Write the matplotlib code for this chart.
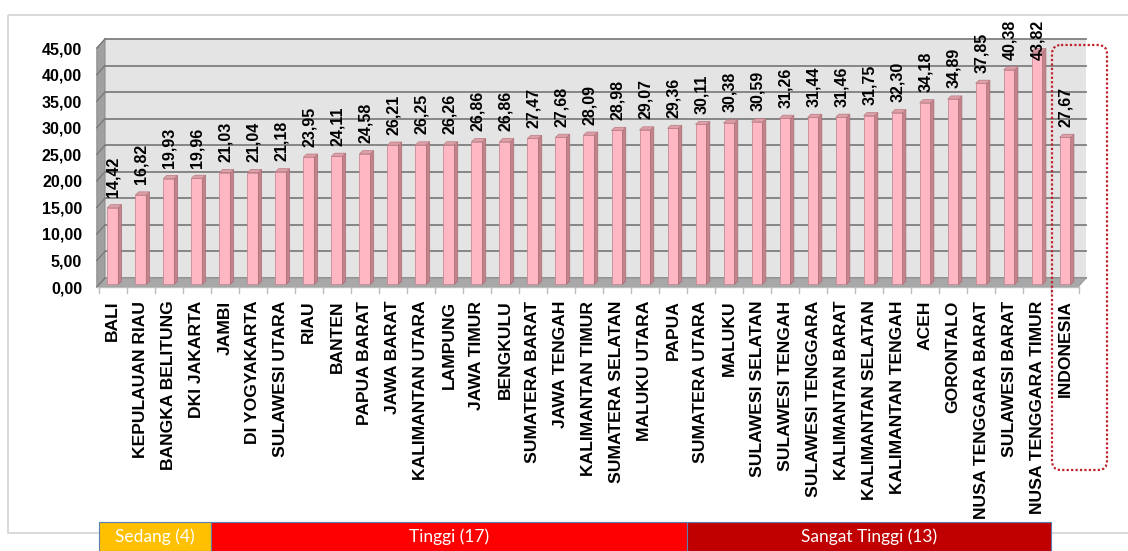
import matplotlib
matplotlib.use("Agg")
import matplotlib.pyplot as plt
from matplotlib.patches import Polygon, Rectangle, FancyBboxPatch
from matplotlib.font_manager import FontProperties
import matplotlib.transforms as mtransforms

# ---------------- data ----------------
provinces = ["BALI", "KEPULAUAN RIAU", "BANGKA BELITUNG", "DKI JAKARTA", "JAMBI",
             "DI YOGYAKARTA", "SULAWESI UTARA", "RIAU", "BANTEN", "PAPUA BARAT",
             "JAWA BARAT", "KALIMANTAN UTARA", "LAMPUNG", "JAWA TIMUR", "BENGKULU",
             "SUMATERA BARAT", "JAWA TENGAH", "KALIMANTAN TIMUR", "SUMATERA SELATAN",
             "MALUKU UTARA", "PAPUA", "SUMATERA UTARA", "MALUKU", "SULAWESI SELATAN",
             "SULAWESI TENGAH", "SULAWESI TENGGARA", "KALIMANTAN BARAT",
             "KALIMANTAN SELATAN", "KALIMANTAN TENGAH", "ACEH", "GORONTALO",
             "NUSA TENGGARA BARAT", "SULAWESI BARAT", "NUSA TENGGARA TIMUR", "INDONESIA"]
values = [14.42, 16.82, 19.93, 19.96, 21.03, 21.04, 21.18, 23.95, 24.11, 24.58,
          26.21, 26.25, 26.26, 26.86, 26.86, 27.47, 27.68, 28.09, 28.98, 29.07,
          29.36, 30.11, 30.38, 30.59, 31.26, 31.44, 31.46, 31.75, 32.30, 34.18,
          34.89, 37.85, 40.38, 43.82, 27.67]
yticks = [0, 5, 10, 15, 20, 25, 30, 35, 40, 45]
band_labels = ["Sedang (4)", "Tinggi (17)", "Sangat Tinggi (13)"]
band_counts = [4, 17, 13]
band_colors = ["#FFC000", "#FF0000", "#C00000"]

W, H = 1128, 551
fig = plt.figure(figsize=(W / 100, H / 100), dpi=100)
fig.patch.set_facecolor("white")

fp_val = FontProperties(family="Liberation Sans", weight="bold", size=11.5)
fp_ytick = FontProperties(family="Liberation Sans", weight="bold", size=11.5)
fp_xtick = FontProperties(family="Liberation Sans", weight="bold", size=12.6)
fp_band = FontProperties(family="Lato", weight="normal", size=12.5)

# overlay (pixel coordinates) for frame
ov = fig.add_axes([0, 0, 1, 1], zorder=0)
ov.set_xlim(0, W)
ov.set_ylim(H, 0)
ov.axis("off")
ov.add_patch(Rectangle((8, 15), W + 20, 518, fill=False, ec="#D3D3D3", lw=1.2))

# main axes
left_px, right_px, top_px, bot_px = 96, 1092, 30, 295
ax = fig.add_axes([left_px / W, (H - bot_px) / H, (right_px - left_px) / W,
                   (bot_px - top_px) / H], zorder=1)
ax.set_xlim(-0.6, 34.96)
ax.set_ylim(-1.5, 48.4)
ax.patch.set_alpha(0)
for s in ax.spines.values():
    s.set_visible(False)

n = len(values)
x0, x1 = -0.57, n - 0.54          # front extents
dx, dy = 0.29, 1.7                # depth offset
ymax = yticks[-1]
label_cap = 42.7                  # labels cannot rise above the chart area

# back wall
ax.add_patch(Polygon([(x0 + dx, dy), (x1 + dx, dy), (x1 + dx, ymax + dy), (x0 + dx, ymax + dy)],
                     closed=True, fc="#E4E4E4", ec="none", zorder=1))
for v in yticks:
    ax.plot([x0 + dx, x1 + dx], [v + dy, v + dy], color="#7F7F7F", lw=1.3, zorder=2)
# left wall
ax.add_patch(Polygon([(x0, 0), (x0 + dx, dy), (x0 + dx, ymax + dy), (x0, ymax)],
                     closed=True, fc="#A0A0A0", ec="#8C8C8C", lw=0.8, zorder=2))
for v in yticks:
    ax.plot([x0, x0 + dx], [v, v + dy], color="#7A7A7A", lw=1.0, zorder=3)
# floor
ax.add_patch(Polygon([(x0, 0), (x1, 0), (x1 + dx, dy), (x0 + dx, dy)],
                     closed=True, fc="#A8A8A8", ec="#9A9A9A", lw=0.8, zorder=2))
# front axis line and ticks
ax.plot([x0, x1], [0, 0], color="#BDBDBD", lw=1.0, zorder=3)
for i in range(n + 1):
    xb = i - 0.5
    ax.plot([xb, xb], [0, -1.2], color="#BDBDBD", lw=1.0, zorder=3, clip_on=False)

# bars (3D look)
bw, sdx, sdy, base = 0.39, 0.12, 0.6, 0.5
for i, v in enumerate(values):
    xl, xr = i - bw / 2, i + bw / 2
    top = v + base
    ax.bar(i, v, width=bw, bottom=base, color="#FFB7C3", edgecolor="#C98B94",
           linewidth=0.6, zorder=5)
    ax.add_patch(Polygon([(xr, base), (xr + sdx, base + sdy), (xr + sdx, top + sdy), (xr, top)],
                         closed=True, fc="#C4838C", ec="#A86E76", lw=0.5, zorder=5))
    ax.add_patch(Polygon([(xl, top), (xr, top), (xr + sdx, top + sdy), (xl + sdx, top + sdy)],
                         closed=True, fc="#DDA0A8", ec="#B97A82", lw=0.5, zorder=5))
    ax.text(i + 0.02, min(top + 2.0, label_cap), f"{v:.2f}".replace(".", ","), rotation=90,
            ha="center", va="bottom", fontproperties=fp_val, color="black", zorder=6,
            clip_on=False)

# axis ticks and labels
ax.set_yticks(yticks)
ax.set_yticklabels([f"{v:.2f}".replace(".", ",") for v in yticks], fontproperties=fp_ytick)
ax.set_xticks(range(n))
ax.set_xticklabels(provinces, rotation=90, ha="center", va="top", fontproperties=fp_xtick)
ax.tick_params(axis="y", length=0, pad=10)
ax.tick_params(axis="x", length=0, pad=4)

# category band at the bottom
trans = mtransforms.blended_transform_factory(ax.transData, fig.transFigure)
start = -0.5
band_y0, band_h = 0.0, (H - 522) / H
for lab, cnt, col in zip(band_labels, band_counts, band_colors):
    ax.add_patch(Rectangle((start, band_y0), cnt, band_h, transform=trans, fc=col,
                           ec="#5B7FB5", lw=0.8, clip_on=False, zorder=7))
    ax.text(start + cnt / 2, band_y0 + band_h * 0.5, lab, transform=trans, ha="center",
            va="center", color="white", fontproperties=fp_band, zorder=8, clip_on=False)
    start += cnt

# dotted highlight box around INDONESIA
ov2 = fig.add_axes([0, 0, 1, 1], zorder=2)
ov2.set_xlim(0, W)
ov2.set_ylim(H, 0)
ov2.axis("off")
ov2.patch.set_alpha(0)
ov2.add_patch(FancyBboxPatch((1052, 45), 55, 425, boxstyle="round,pad=0,rounding_size=9",
                             fill=False, ec="#C0202A", lw=1.6, ls=(0, (1, 1))))

fig.savefig("out.png", dpi=100)
